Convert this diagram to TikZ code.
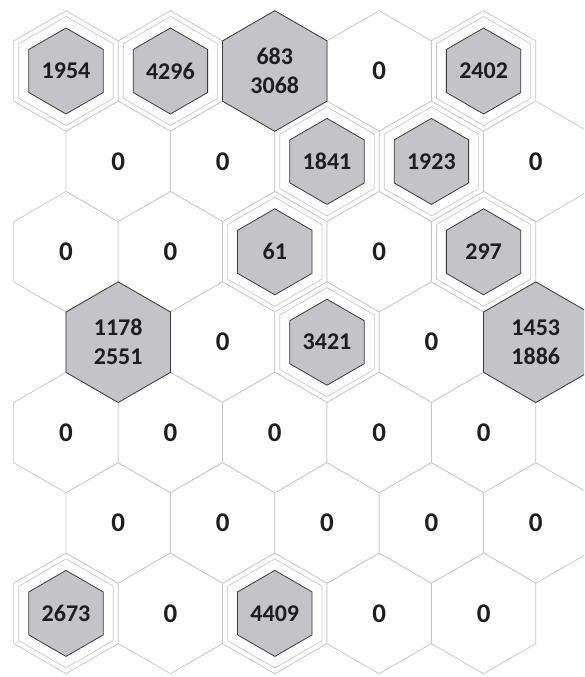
\documentclass[tikz,border=0pt]{standalone}
\usepackage{fontspec}
\setmainfont{Carlito}
\usetikzlibrary{shapes.geometric}
\definecolor{gridline}{HTML}{C8C8C8}
\definecolor{shade}{HTML}{C4C4C6}
\definecolor{shadeline}{HTML}{3A3A3A}
\definecolor{txt}{HTML}{1E1E1E}
\tikzset{
  hexbase/.style={regular polygon, regular polygon sides=6, regular polygon rotate=30, inner sep=0pt, outer sep=0pt},
  cell/.style={hexbase, minimum size=120.6pt, draw=gridline, line width=0.8pt, fill=white, text=txt, font=\fontsize{27}{29}\selectfont\bfseries},
  ring/.style={hexbase, minimum size=109pt, draw=gridline, line width=0.7pt},
  small/.style={hexbase, minimum size=86pt, draw=shadeline, line width=0.8pt, fill=shade, text=txt, font=\fontsize{24}{29}\selectfont\bfseries},
  big/.style={hexbase, minimum size=120.6pt, draw=shadeline, line width=0.8pt, fill=shade, text=txt, align=center, font=\fontsize{24}{29}\selectfont\bfseries},
}
\begin{document}
\begin{tikzpicture}[x=1pt,y=-1pt]
\clip (0,0) rectangle (584,677);
\fill[white] (0,0) rectangle (584,677);
% grid cells
% row 0
\node[cell] (c00) at (66,71) {};
\node[cell] (c01) at (170.4,71) {};
\node[cell] (c02) at (274.8,71) {};
\node[cell] (c03) at (379.2,71) {0};
\node[cell] (c04) at (483.6,71) {};
% row 1
\node[cell] (c10) at (118.2,161.4) {0};
\node[cell] (c11) at (222.6,161.4) {0};
\node[cell] (c12) at (327,161.4) {};
\node[cell] (c13) at (431.4,161.4) {};
\node[cell] (c14) at (535.8,161.4) {0};
% row 2
\node[cell] (c20) at (66,251.8) {0};
\node[cell] (c21) at (170.4,251.8) {0};
\node[cell] (c22) at (274.8,251.8) {};
\node[cell] (c23) at (379.2,251.8) {0};
\node[cell] (c24) at (483.6,251.8) {};
% row 3
\node[cell] (c30) at (118.2,342.2) {};
\node[cell] (c31) at (222.6,342.2) {0};
\node[cell] (c32) at (327,342.2) {};
\node[cell] (c33) at (431.4,342.2) {0};
\node[cell] (c34) at (535.8,342.2) {};
% row 4
\node[cell] (c40) at (66,432.6) {0};
\node[cell] (c41) at (170.4,432.6) {0};
\node[cell] (c42) at (274.8,432.6) {0};
\node[cell] (c43) at (379.2,432.6) {0};
\node[cell] (c44) at (483.6,432.6) {0};
% row 5
\node[cell] (c50) at (118.2,523) {0};
\node[cell] (c51) at (222.6,523) {0};
\node[cell] (c52) at (327,523) {0};
\node[cell] (c53) at (431.4,523) {0};
\node[cell] (c54) at (535.8,523) {0};
% row 6
\node[cell] (c60) at (66,613.4) {};
\node[cell] (c61) at (170.4,613.4) {0};
\node[cell] (c62) at (274.8,613.4) {};
\node[cell] (c63) at (379.2,613.4) {0};
\node[cell] (c64) at (483.6,613.4) {0};
% inner rings of marked cells
\node[ring] (r00) at (c00) {};
\node[ring] (r01) at (c01) {};
\node[ring] (r04) at (c04) {};
\node[ring] (r12) at (c12) {};
\node[ring] (r13) at (c13) {};
\node[ring] (r22) at (c22) {};
\node[ring] (r24) at (c24) {};
\node[ring] (r32) at (c32) {};
\node[ring] (r60) at (c60) {};
\node[ring] (r62) at (c62) {};
% small shaded hexagons
\node[small] (s00) at (c00) {1954};
\node[small] (s01) at (c01) {4296};
\node[small] (s04) at (c04) {2402};
\node[small] (s12) at (c12) {1841};
\node[small] (s13) at (c13) {1923};
\node[small] (s22) at (c22) {61};
\node[small] (s24) at (c24) {297};
\node[small] (s32) at (c32) {3421};
\node[small] (s60) at (c60) {2673};
\node[small] (s62) at (c62) {4409};
% big shaded hexagons
\node[big] (b02) at (c02) {683\\3068};
\node[big] (b30) at (c30) {1178\\2551};
\node[big] (b34) at (c34) {1453\\1886};
\end{tikzpicture}
\end{document}
